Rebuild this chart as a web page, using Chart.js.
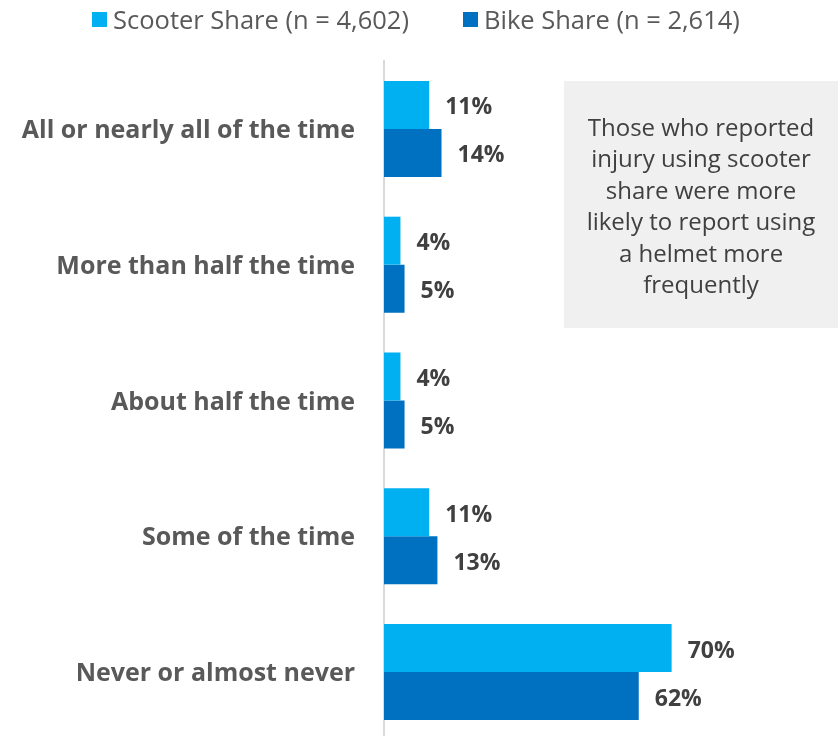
<!DOCTYPE html>
<html>
<head>
<meta charset="utf-8">
<script src="https://cdn.jsdelivr.net/npm/chart.js@4/dist/chart.umd.min.js"></script>
<style>
  html, body { margin: 0; padding: 0; background: #fff; overflow: hidden; }
  #wrap { width: 838px; height: 736px; overflow: hidden; }
  #box { position: relative; width: 838px; height: 740px; }
</style>
</head>
<body>
<div id="wrap">
  <div id="box"><canvas id="helmetChart"></canvas></div>
</div>
<script>
// data
const categories = [
  'All or nearly all of the time',
  'More than half the time',
  'About half the time',
  'Some of the time',
  'Never or almost never'
];
const scooterShare = [11, 4, 4, 11, 70];
const bikeShare = [14, 5, 5, 13, 62];
const seriesNames = ['Scooter Share (n = 4,602)', 'Bike Share (n = 2,614)'];
const noteLines = [
  'Those who reported',
  'injury using scooter',
  'share were more',
  'likely to report using',
  'a helmet more',
  'frequently'
];

const FONT = "'Open Sans', 'Noto Sans', sans-serif";

// legend drawn by hand so the spacing matches the original
const topLegend = {
  id: 'topLegend',
  afterDraw(chart) {
    const ctx = chart.ctx;
    const xs = [92, 463];
    ctx.save();
    ctx.font = '25.5px ' + FONT;
    ctx.textAlign = 'left';
    ctx.textBaseline = 'middle';
    chart.data.datasets.forEach((ds, i) => {
      ctx.fillStyle = ds.backgroundColor;
      ctx.fillRect(xs[i], 12, 15, 15);
      ctx.fillStyle = '#595959';
      ctx.fillText(ds.label, xs[i] + 21, 22);
    });
    ctx.restore();
  }
};

// percent labels at the end of each bar
const barLabels = {
  id: 'barLabels',
  afterDatasetsDraw(chart) {
    const ctx = chart.ctx;
    ctx.save();
    ctx.font = 'bold 23px ' + FONT;
    ctx.fillStyle = '#404040';
    ctx.textAlign = 'left';
    ctx.textBaseline = 'middle';
    chart.data.datasets.forEach((ds, i) => {
      chart.getDatasetMeta(i).data.forEach((bar, j) => {
        ctx.fillText(ds.data[j] + '%', bar.x + 16, bar.y + 3);
      });
    });
    ctx.restore();
  }
};

// grey callout box on the right
const noteBox = {
  id: 'noteBox',
  afterDraw(chart) {
    const ctx = chart.ctx;
    ctx.save();
    ctx.fillStyle = '#F0F0F0';
    ctx.fillRect(564, 81, 274, 247);
    ctx.font = '24px ' + FONT;
    ctx.fillStyle = '#404040';
    ctx.textAlign = 'center';
    ctx.textBaseline = 'middle';
    noteLines.forEach((line, i) => {
      ctx.fillText(line, 701, 129 + i * 31.5);
    });
    ctx.restore();
  }
};

const ctx = document.getElementById('helmetChart').getContext('2d');
window.helmetChart = new Chart(ctx, {
  type: 'bar',
  data: {
    labels: categories,
    datasets: [
      {
        label: seriesNames[0],
        data: scooterShare,
        backgroundColor: '#00B0F0',
        borderWidth: 0
      },
      {
        label: seriesNames[1],
        data: bikeShare,
        backgroundColor: '#0070C0',
        borderWidth: 0
      }
    ]
  },
  options: {
    indexAxis: 'y',
    responsive: true,
    maintainAspectRatio: false,
    animation: false,
    layout: { padding: { top: 61, right: 2, left: 0, bottom: 0 } },
    plugins: {
      legend: { display: false },
      tooltip: { enabled: false }
    },
    scales: {
      x: {
        min: 0,
        max: 110,
        display: false
      },
      y: {
        grid: { display: false, drawTicks: false },
        border: { display: true, color: '#D9D9D9', width: 2 },
        ticks: {
          padding: 29,
          labelOffset: 2,
          color: '#595959',
          font: { family: FONT, size: 25, weight: 'bold' }
        },
        afterFit(scale) {
          scale.width = 384;
          scale.paddingTop = 0;
          scale.paddingBottom = 0;
        }
      }
    },
    datasets: {
      bar: { categoryPercentage: 0.707, barPercentage: 1 }
    }
  },
  plugins: [barLabels, noteBox, topLegend]
});
</script>
</body>
</html>
